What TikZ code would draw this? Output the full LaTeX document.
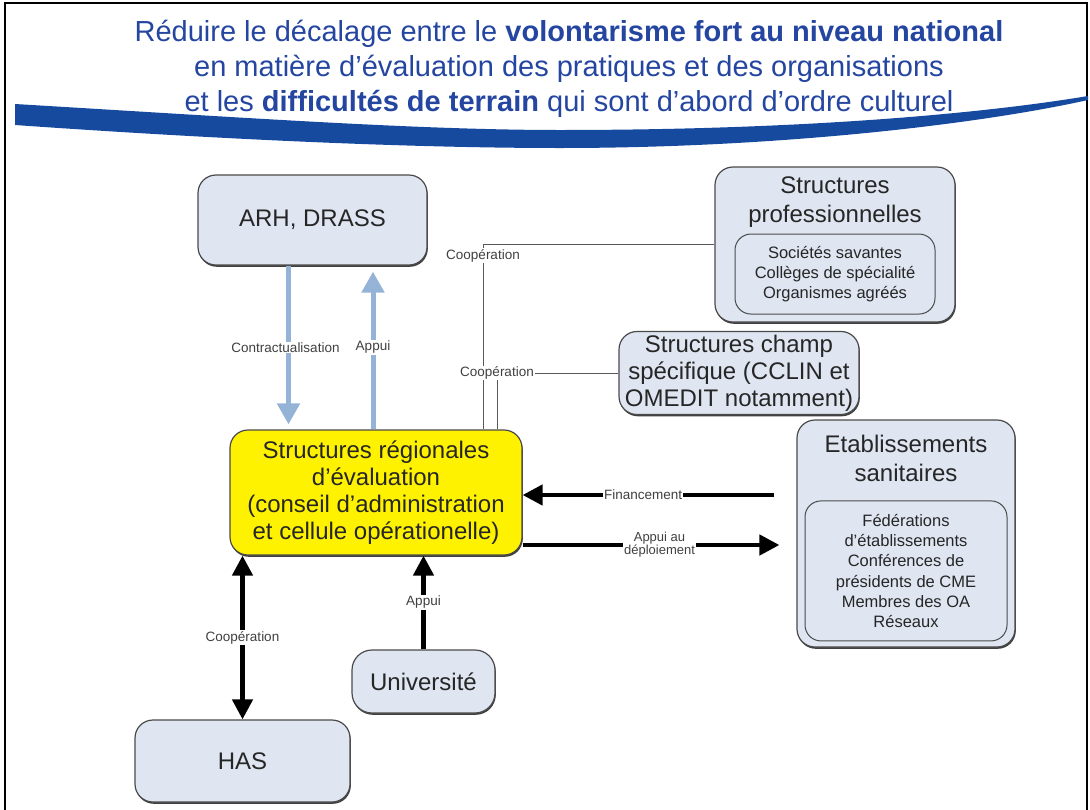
\documentclass[tikz,border=0pt]{standalone}
\usepackage{fontspec}
\setmainfont{Liberation Sans}
\usetikzlibrary{positioning,arrows.meta,shadows}
\definecolor{boxfill}{HTML}{DFE6F1}
\definecolor{boxline}{HTML}{4A4A4A}
\definecolor{paleblue}{HTML}{95B3D7}
\definecolor{titleblue}{HTML}{2445A0}
\definecolor{bandblue}{HTML}{164A9E}
\tikzset{
	box/.style={draw=boxline, line width=1.2pt, fill=boxfill, rounded corners=18pt, align=center, text=black!85,
		font=\fontsize{24}{27}\selectfont, drop shadow={shadow xshift=0.8pt, shadow yshift=-1.8pt, opacity=1, fill=black!75}},
	inbox/.style={draw=boxline, line width=1pt, fill=boxfill, rounded corners=16pt, align=center, text=black!85,
		font=\fontsize{16.5}{20.3}\selectfont},
	ttl/.style={align=center, inner sep=0pt, text=black!85, font=\fontsize{24}{29}\selectfont},
	lbl/.style={fill=white, inner sep=1pt, text=black!75, font=\fontsize{13.5}{14}\selectfont},
	blk/.style={line width=4.5pt, >={Triangle[length=20pt,width=20pt]}, ->},
	pale/.style={draw=paleblue, line width=5pt, >={Triangle[length=21pt,width=22pt]}, ->},
	fin/.style={draw=black!65, line width=1pt},
}
\begin{document}
\begin{tikzpicture}[x=1pt,y=-1pt]
	\useasboundingbox (0,0) rectangle (1090,809);
	\draw[line width=2pt] (5,815) -- (5,3) -- (1087,3) -- (1087,815);
	\fill[bandblue] (15,104) .. controls (250,118) and (420,130) .. (560,130)
		.. controls (800,130) and (980,114) .. (1088,96) -- (1088,100)
		.. controls (980,124) and (780,148) .. (560,148)
		.. controls (400,148) and (200,138) .. (15,125) -- cycle;
	\node[align=center, text=titleblue, font=\fontsize{29}{35}\selectfont] (titre) at (569,69)
		{Réduire le décalage entre le \textbf{volontarisme fort au niveau national}\\
		 en matière d’évaluation des pratiques et des organisations\\
		 et les \textbf{difficultés de terrain} qui sont d’abord d’ordre culturel};

	\node[box, minimum width=229pt, minimum height=90pt]	(arh)	at (312.5,220)	{ARH, DRASS};
	\node[box, minimum width=240pt, minimum height=155pt]	(prof)	at (835,244.5)	{};
	\node[ttl]	(prof_t)	[below=10pt of prof.north]	{Structures\\professionnelles};
	\node[inbox, minimum width=200pt, minimum height=80pt]	(prof_in)	[below=6pt of prof_t]
		{Sociétés savantes\\Collèges de spécialité\\Organismes agréés};
	\node[box, minimum width=240pt, minimum height=82pt]	(champ)	at (739,373)
		{Structures champ\\spécifique (CCLIN et\\OMEDIT notamment)};
	\node[box, fill=yellow, minimum width=292pt, minimum height=125pt]	(sre)	at (376,492.5)
		{Structures régionales\\d’évaluation\\(conseil d’administration\\et cellule opérationelle)};
	\node[box, minimum width=218pt, minimum height=227pt]	(etab)	at (906,533.5)	{};
	\node[ttl]	(etab_t)	[below=16pt of etab.north]	{Etablissements\\sanitaires};
	\node[inbox, minimum width=202pt, minimum height=140pt]	(etab_in)	[below=18pt of etab_t]
		{Fédérations\\d’établissements\\Conférences de\\présidents de CME\\Membres des OA\\Réseaux};
	\node[box, rounded corners=20pt, minimum width=143pt, minimum height=63pt]	(univ)	at (423.5,681.5)	{Université};
	\node[box, minimum width=215pt, minimum height=82pt]	(has)	at (242.5,761)	{HAS};

	\coordinate (k1) at (483,0);
	\coordinate (k2) at (497,0);
	\draw[fin]	(prof.west)		-| (k1 |- sre.north)	node[lbl, pos=0.53]	{Coopération};
	\draw[fin]	(champ.west)	-| (k2 |- sre.north)	node[lbl, pos=0.5]	{Coopération};

	\draw[pale, shorten >=5pt]	([xshift=-24pt]arh.south) -- ([xshift=-24pt]arh.south |- sre.north)
		node[lbl, midway, xshift=-3pt]	{Contractualisation};
	\draw[pale, shorten >=6pt]	([xshift=-3pt]sre.north) -- ([xshift=-3pt]sre.north |- arh.south)
		node[lbl, midway]	{Appui};

	\draw[blk, shorten <=22pt]	([yshift=38.5pt]etab.west) -- ([yshift=38.5pt]etab.west -| sre.east)
		node[lbl, pos=0.56]	{Financement};
	\draw[blk, shorten >=17pt]	([yshift=-52.5pt]sre.east) -- ([yshift=-52.5pt]sre.east -| etab.west)
		node[lbl, midway, align=center, font=\fontsize{13}{13}\selectfont]	{Appui au\\déploiement};
	\draw[blk, <->]	(has.north) -- (has.north |- sre.south)	node[lbl, midway]	{Coopération};
	\draw[blk]	(univ.north) -- (univ.north |- sre.south)	node[lbl, midway]	{Appui};
\end{tikzpicture}
\end{document}
